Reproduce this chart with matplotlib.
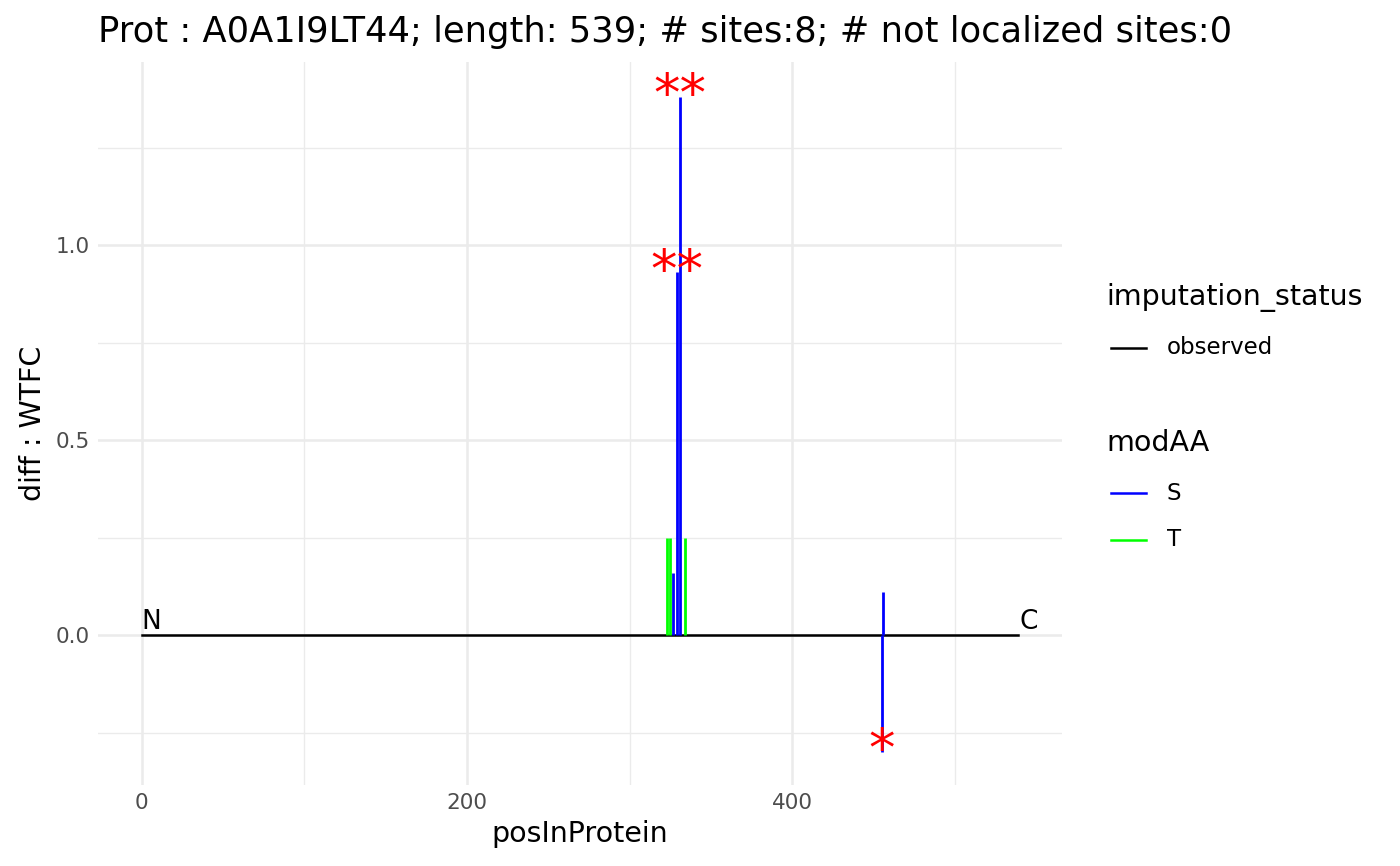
import matplotlib
matplotlib.use("Agg")
import matplotlib.pyplot as plt
from matplotlib.lines import Line2D

# data
positions = [323, 325, 327, 329, 331, 334, 455, 456]
values = [0.25, 0.25, 0.16, 0.93, 1.38, 0.25, -0.30, 0.11]
mod_aa = ["T", "T", "S", "S", "S", "T", "S", "S"]
stars_pos = [329, 331, 455]
stars_val = [0.93, 1.38, -0.30]
stars_lab = ["**", "**", "*"]
prot_len = 539
colors = {"S": "#0000FF", "T": "#00FF00"}

fig = plt.figure(figsize=(14, 8.66), dpi=100)
ax = fig.add_axes([98/1400, 1-785/866, (1062-98)/1400, (785-62)/866])

ax.set_xlim(-26.95, 565.95)
ax.set_ylim(-0.3842, 1.4692)

# grid
for x in [100, 300, 500]:
    ax.axvline(x, color="#EBEBEB", lw=1.0, zorder=0)
for x in [0, 200, 400]:
    ax.axvline(x, color="#EBEBEB", lw=1.8, zorder=0)
for y in [-0.25, 0.25, 0.75, 1.25]:
    ax.axhline(y, color="#EBEBEB", lw=1.0, zorder=0)
for y in [0, 0.5, 1.0]:
    ax.axhline(y, color="#EBEBEB", lw=1.8, zorder=0)

ax.plot([0, prot_len], [0, 0], color="black", lw=1.8, zorder=2)
ax.vlines(positions, 0, values, colors=[colors[m] for m in mod_aa], lw=2.0, zorder=3)

for x, y, s in zip(stars_pos, stars_val, stars_lab):
    ax.text(x, y + 0.002, s, color="red", fontsize=38, ha="center", va="center", zorder=4)

ax.text(0, 0.0, "N", fontsize=19, ha="left", va="bottom")
ax.text(prot_len + 1, 0.0, "C", fontsize=19, ha="left", va="bottom")

ax.set_xticks([0, 200, 400])
ax.set_xticklabels(["0", "200", "400"])
ax.set_yticks([0, 0.5, 1.0])
ax.set_yticklabels(["0.0", "0.5", "1.0"])
ax.tick_params(length=0, labelsize=15.5, labelcolor="#4D4D4D", pad=6)
for s in ax.spines.values():
    s.set_visible(False)
ax.set_xlabel("posInProtein", fontsize=20.5, labelpad=5)
ax.set_ylabel("diff : WTFC", fontsize=20.5, labelpad=6)
fig.text(98/1400, 1-32/866, "Prot : A0A1I9LT44; length: 539; # sites:8; # not localized sites:0",
         fontsize=25.4, ha="left", va="center")

# legends
fig.text(1106/1400, 1-298/866, "imputation_status", fontsize=20.5, ha="left", va="center")
fig.add_artist(Line2D([1111/1400, 1146/1400], [1-348/866]*2, color="black", lw=1.8))
fig.text(1167/1400, 1-348/866, "observed", fontsize=16.5, ha="left", va="center")
fig.text(1106/1400, 1-443/866, "modAA", fontsize=20.5, ha="left", va="center")
for lab, yp in zip(["S", "T"], [493, 540]):
    fig.add_artist(Line2D([1111/1400, 1146/1400], [1-yp/866]*2, color=colors[lab], lw=1.8))
    fig.text(1167/1400, 1-yp/866, lab, fontsize=16.5, ha="left", va="center")

fig.savefig("out.png", dpi=100)
